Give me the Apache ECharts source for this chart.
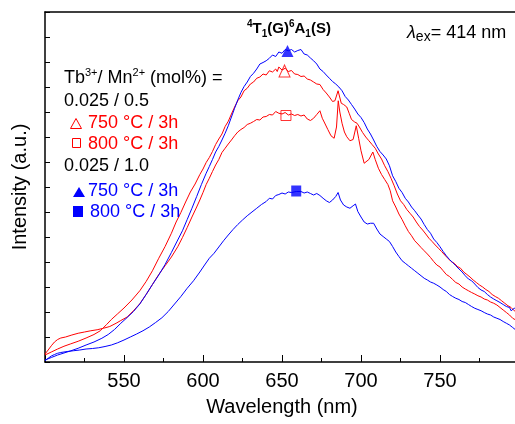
<!DOCTYPE html>
<html><head><meta charset="utf-8">
<script src="https://cdn.jsdelivr.net/npm/echarts@6/dist/echarts.min.js"></script>
<style>html,body{margin:0;padding:0;background:#fff}#c{width:515px;height:424px}</style>
</head><body><div id="c"></div>
<script>
// ---- data (wavelength nm, intensity a.u.) ----
const xTicks = [550, 600, 650, 700, 750];
const red750 = [[500,0.28],[504,0.40],[508,0.52],[512,0.63],[516,0.72],[521,0.83],[526,0.96],[531,1.1],[535,1.25],[539,1.5],[542,1.7],[546,1.93],[550,2.16],[555,2.48],[560,2.85],[564,3.22],[568,3.65],[572,4.15],[576,4.62],[580,5.15],[583,5.6],[586,5.98],[589,6.4],[592,6.8],[595,7.12],[598,7.5],[600,7.72],[602,7.98],[604,8.18],[606,8.42],[608,8.7],[610,8.92],[612,9.12],[614,9.42],[616,9.63],[618,9.92],[620,10.2],[622,10.45],[624,10.6],[626,10.85],[628,10.95],[630,11.12],[632,11.2],[634,11.35],[636,11.4],[638,11.52],[640,11.48],[642,11.65],[644,11.6],[646,11.72],[647,11.62],[648,11.8],[650,11.68],[652,11.75],[654,11.62],[656,11.66],[658,11.52],[660,11.5],[662,11.42],[664,11.44],[666,11.32],[668,11.28],[670,11.2],[672,11.12],[674,11.1],[676,10.9],[678,10.76],[680,10.6],[682,10.42],[683.5,10.45],[685.5,10.85],[687.5,10.35],[689,10.3],[691,10.2],[692.5,9.95],[694,9.7],[696,9.6],[697.5,9.55],[699,9.4],[701,9.18],[703,9.0],[705,8.85],[707,8.7],[709,8.55],[711,8.32],[713,8.12],[715,7.85],[717,7.62],[719,7.35],[721,7.05],[723,6.72],[725,6.45],[727,6.3],[729,6.1],[731,5.95],[733,5.8],[735,5.6],[737,5.42],[739,5.28],[741,5.12],[743,4.95],[745,4.82],[747,4.68],[749,4.55],[751,4.42],[753,4.28],[755,4.15],[757,4.02],[759,3.95],[761,3.82],[763,3.75],[765,3.6],[767,3.5],[769,3.4],[771,3.28],[773,3.18],[775,3.08],[777,3.0],[779,2.9],[781,2.82],[783,2.7],[785,2.62],[787,2.55],[789,2.45],[791,2.35],[793,2.25],[795,2.18],[797,2.05],[800,1.95]];
const red800 = [[500,0.32],[502,0.48],[504,0.65],[506,0.8],[508,0.9],[510,0.96],[513,1.0],[517,1.08],[521,1.15],[525,1.2],[529,1.25],[533,1.29],[537,1.35],[541,1.42],[545,1.55],[548,1.66],[552,1.8],[556,2.05],[560,2.33],[564,2.7],[568,3.1],[572,3.5],[576,3.85],[580,4.2],[584,4.61],[587,4.98],[590,5.38],[593,5.8],[596,6.2],[598,6.48],[600,6.78],[602,7.1],[604,7.35],[606,7.62],[608,7.88],[610,8.1],[612,8.38],[614,8.55],[616,8.72],[618,8.88],[620,9.05],[622,9.2],[624,9.3],[626,9.38],[628,9.5],[630,9.55],[632,9.62],[634,9.7],[636,9.68],[638,9.8],[640,9.82],[642,9.9],[644,9.88],[646,10.02],[648,9.95],[650,9.92],[652,9.98],[654,9.88],[656,9.92],[658,9.86],[660,9.9],[662,9.84],[664,9.88],[666,9.72],[668,9.66],[670,9.75],[672,9.9],[674,10.05],[675.5,9.75],[677,9.56],[679,9.3],[681,9.05],[683,8.95],[684.5,9.4],[685.6,10.45],[686.6,10.0],[688,9.55],[689.5,9.2],[691,9.01],[693,8.85],[695,8.9],[697,9.45],[698.5,8.95],[700,8.45],[702,7.95],[703,7.88],[705,8.1],[707.5,8.4],[709,8.1],[711,7.75],[713,7.5],[715,7.3],[717,7.1],[718.5,6.85],[720,6.45],[722,6.2],[724,5.92],[726,5.7],[728,5.45],[730,5.22],[732,5.05],[734,4.85],[736,4.72],[738,4.58],[740,4.45],[742,4.32],[744,4.18],[746,4.02],[748,3.88],[750,3.8],[752,3.65],[754,3.5],[756,3.42],[758,3.3],[760,3.18],[762,3.12],[764,3.0],[766,2.92],[768,2.85],[770,2.78],[772,2.72],[774,2.65],[776,2.6],[778,2.52],[780,2.48],[782,2.4],[784,2.35],[786,2.28],[788,2.18],[790,2.08],[792,1.98],[794,1.88],[796,1.75],[798,1.68],[800,1.62]];
const blue750 = [[500,0.08],[504,0.18],[508,0.28],[512,0.36],[516,0.44],[521,0.55],[526,0.68],[531,0.8],[536,0.95],[540,1.1],[544,1.3],[548,1.55],[552,1.78],[556,2.02],[560,2.32],[564,2.7],[568,3.1],[572,3.48],[576,3.9],[580,4.38],[584,4.88],[587,5.25],[590,5.7],[593,6.15],[596,6.62],[599,7.1],[602,7.55],[604,7.82],[606,8.1],[608,8.4],[610,8.62],[612,8.88],[614,9.15],[616,9.45],[618,9.8],[620,10.15],[622,10.48],[624,10.78],[626,11.02],[628,11.2],[630,11.42],[632,11.55],[634,11.72],[636,11.92],[638,11.98],[640,12.05],[642,12.15],[644,12.28],[646,12.22],[648,12.4],[650,12.35],[652,12.5],[654,12.45],[656,12.5],[658,12.4],[660,12.46],[662,12.5],[664,12.32],[666,12.28],[668,12.16],[670,12.05],[672,11.92],[674,11.72],[676,11.62],[678,11.48],[680,11.35],[682,11.22],[684,11.12],[686,11.0],[688,10.85],[690,10.62],[692,10.48],[694,10.3],[696,10.12],[698,9.92],[700,9.78],[702,9.58],[704,9.32],[706,9.12],[708,8.88],[710,8.62],[712,8.42],[714,8.28],[716,8.12],[718,7.85],[720,7.45],[722,7.22],[724,6.95],[726,6.78],[728,6.55],[730,6.4],[732,6.2],[734,6.05],[736,5.88],[738,5.72],[740,5.5],[742,5.3],[744,5.15],[746,4.92],[748,4.78],[750,4.61],[752,4.42],[754,4.25],[756,4.1],[758,3.98],[760,3.85],[762,3.72],[764,3.6],[766,3.45],[768,3.32],[770,3.25],[772,3.12],[774,2.98],[776,2.88],[778,2.82],[780,2.7],[782,2.6],[784,2.52],[786,2.45],[788,2.38],[790,2.3],[792,2.22],[794,2.18],[795,2.05],[797,2.15],[800,2.1]];
const blue800 = [[500,0.05],[502,0.15],[504,0.24],[506,0.3],[508,0.35],[510,0.38],[514,0.42],[518,0.45],[522,0.48],[526,0.52],[530,0.54],[534,0.57],[538,0.62],[542,0.68],[546,0.77],[550,0.88],[554,1.0],[558,1.12],[562,1.25],[566,1.4],[570,1.58],[574,1.77],[578,2.02],[582,2.32],[586,2.62],[590,2.95],[594,3.25],[598,3.6],[601,3.88],[604,4.15],[607,4.35],[610,4.6],[613,4.85],[616,5.08],[619,5.3],[622,5.5],[625,5.68],[628,5.85],[631,6.0],[634,6.15],[637,6.3],[640,6.42],[642,6.55],[644,6.52],[646,6.66],[648,6.7],[650,6.76],[652,6.72],[654,6.8],[656,6.78],[659,6.82],[662,6.82],[664,6.76],[666,6.8],[668,6.74],[670,6.68],[672,6.74],[674,6.66],[676,6.55],[678,6.45],[680,6.38],[682,6.48],[684,6.62],[685.5,6.78],[687,6.48],[689,6.28],[691,6.2],[693,6.15],[695,6.25],[696.5,6.32],[698,6.02],[700,5.8],[702,5.6],[704,5.52],[706,5.55],[708,5.55],[710,5.32],[712,5.12],[714,5.02],[716,4.92],[718,4.82],[720,4.62],[722,4.4],[724,4.22],[726,4.05],[728,3.95],[730,3.85],[732,3.75],[734,3.65],[736,3.55],[738,3.45],[740,3.35],[742,3.28],[744,3.2],[746,3.15],[748,3.08],[750,3.0],[752,2.9],[754,2.82],[756,2.7],[758,2.62],[760,2.55],[762,2.5],[764,2.42],[766,2.38],[768,2.3],[770,2.22],[772,2.15],[774,2.1],[776,2.05],[778,1.98],[780,1.92],[782,1.88],[784,1.8],[786,1.75],[788,1.7],[790,1.62],[792,1.55],[794,1.48],[796,1.38],[798,1.28],[800,1.2]];
// marker positions (peak labels)
const markBlueTri = [653.5, 12.44];
const markRedTri = [651.6, 11.64];
const markRedSq = [652.5, 9.86];
const markBlueSq = [659, 6.84];

const RED = '#ff0000', BLUE = '#0000ff';
const FONT = 'Liberation Sans, Arial, Helvetica, sans-serif';

const chart = echarts.init(document.getElementById('c'), null, {renderer: 'canvas'});

function lineSeries(data, color) {
  return {type: 'line', data: data, showSymbol: false, symbol: 'none', smooth: false,
    lineStyle: {color: color, width: 1}, itemStyle: {color: color}, z: 2, clip: true};
}
function markSeries(pt, symbol, size, color, filled) {
  return {type: 'scatter', data: [pt], symbol: symbol, symbolSize: size, z: 5,
    itemStyle: filled ? {color: color} : {color: 'rgba(0,0,0,0)', borderColor: color, borderWidth: 1}};
}

function txt(x, y, text, color, size) {
  return {type: 'text', x: x, y: y, z: 10,
    style: {text: text, fill: color, font: size + 'px ' + FONT, verticalAlign: 'middle', align: 'left'}};
}

const option = {
  animation: false,
  backgroundColor: '#fff',
  grid: {left: 45, top: 12, width: 474, height: 350, containLabel: false, outerBoundsMode: 'none'},
  xAxis: [{
    type: 'value', min: 500, max: 800, interval: 50, position: 'bottom',
    name: 'Wavelength (nm)', nameLocation: 'middle', nameGap: 35,
    nameTextStyle: {fontSize: 20, color: '#000', fontFamily: FONT},
    axisLine: {show: true, onZero: false, lineStyle: {color: '#000', width: 1.5}},
    axisTick: {show: true, inside: true, length: 7, lineStyle: {color: '#000', width: 1}},
    minorTick: {show: true, splitNumber: 2, length: 4, lineStyle: {color: '#000', width: 1}},
    splitLine: {show: false},
    axisLabel: {fontSize: 20, color: '#000', fontFamily: FONT, margin: 9,
      formatter: function (v) { return xTicks.indexOf(v) >= 0 ? String(v) : ''; }}
  }, {
    type: 'value', min: 500, max: 800, position: 'top',
    axisLine: {show: true, onZero: false, lineStyle: {color: '#000', width: 1.5}},
    axisTick: {show: false}, axisLabel: {show: false}, splitLine: {show: false}
  }],
  yAxis: {
    type: 'value', min: 0, max: 14, interval: 1,
    name: 'Intensity (a.u.)', nameLocation: 'middle', nameGap: 15,
    nameTextStyle: {fontSize: 20, color: '#000', fontFamily: FONT},
    axisLine: {show: true, lineStyle: {color: '#000', width: 1.5}},
    axisTick: {show: true, inside: true, length: 5, lineStyle: {color: '#000', width: 1}},
    axisLabel: {show: false}, splitLine: {show: false}
  },
  series: [
    lineSeries(blue800, BLUE),
    lineSeries(red800, RED),
    lineSeries(red750, RED),
    lineSeries(blue750, BLUE),
    markSeries(markBlueTri, 'triangle', [12, 12], BLUE, true),
    markSeries(markRedTri, 'triangle', [11, 12], RED, false),
    markSeries(markRedSq, 'rect', [10, 10], RED, false),
    markSeries(markBlueSq, 'rect', [10, 11], BLUE, true)
  ],
  graphic: [
    {type: 'text', x: 64, y: 77, z: 10, style: {
      text: '{m|Tb}{s|3+}{m|/ Mn}{s|2+}{m| (mol%) =}', fill: '#000', verticalAlign: 'middle',
      rich: {m: {fontSize: 18, fontFamily: FONT, lineHeight: 20, verticalAlign: 'bottom'},
             s: {fontSize: 11, fontFamily: FONT, lineHeight: 20, verticalAlign: 'top'}}}},
    txt(64, 101, '0.025 / 0.5', '#000', 18),
    {type: 'polygon', z: 10, shape: {points: [[76, 118.5], [70.5, 128.5], [81.5, 128.5]]},
      style: {fill: 'none', stroke: RED, lineWidth: 1}},
    txt(88, 123, '750 \u00B0C / 3h', RED, 18),
    {type: 'rect', z: 10, shape: {x: 72.5, y: 138.5, width: 8, height: 9},
      style: {fill: 'none', stroke: RED, lineWidth: 1}},
    txt(88, 144, '800 \u00B0C / 3h', RED, 18),
    txt(64, 166, '0.025 / 1.0', '#000', 18),
    {type: 'polygon', z: 10, shape: {points: [[79, 187], [73, 197], [85, 197]]},
      style: {fill: BLUE}},
    txt(88, 191, '750 \u00B0C / 3h', BLUE, 18),
    {type: 'rect', z: 10, shape: {x: 73, y: 206, width: 10, height: 11},
      style: {fill: BLUE}},
    txt(90, 212, '800 \u00B0C / 3h', BLUE, 18),
    {type: 'text', x: 247, y: 29, z: 10, style: {
      text: '{p|4}{m|T}{b|1}{m|(G)}{p|6}{m|A}{b|1}{m|(S)}', fill: '#000', verticalAlign: 'middle',
      rich: {m: {fontSize: 15, fontWeight: 'bold', fontFamily: FONT, lineHeight: 20, verticalAlign: 'middle'},
             p: {fontSize: 10, fontWeight: 'bold', fontFamily: FONT, lineHeight: 20, verticalAlign: 'top'},
             b: {fontSize: 10, fontWeight: 'bold', fontFamily: FONT, lineHeight: 20, verticalAlign: 'bottom'}}}},
    {type: 'text', x: 407, y: 33, z: 10, style: {
      text: '{l|\u03BB}{e|ex}{m|= 414 nm}', fill: '#000', verticalAlign: 'middle',
      rich: {l: {fontSize: 18, fontStyle: 'italic', fontFamily: FONT, lineHeight: 22, verticalAlign: 'middle'},
             e: {fontSize: 14, fontFamily: FONT, lineHeight: 22, verticalAlign: 'bottom'},
             m: {fontSize: 18, fontFamily: FONT, lineHeight: 22, verticalAlign: 'middle'}}}}
  ]
};
chart.setOption(option);
</script>
</body></html>
